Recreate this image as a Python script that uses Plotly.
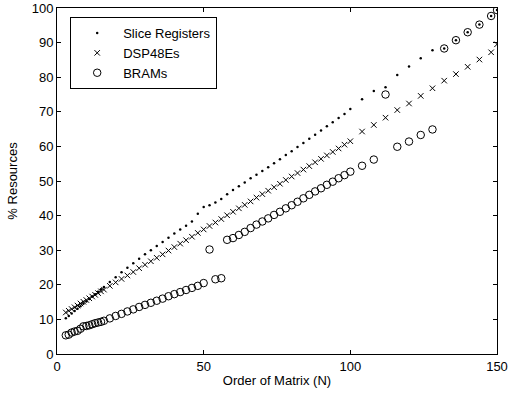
import plotly.graph_objects as go

# N values (order of matrix)
N = [3, 4, 5, 6, 7, 8, 9, 10, 11, 12, 13, 14, 15, 16,
     18, 20, 22, 24, 26, 28, 30, 32, 34, 36, 38, 40, 42, 44, 46, 48, 50,
     52, 54, 56, 58, 60, 62, 64, 66, 68, 70, 72, 74, 76, 78, 80, 82, 84,
     86, 88, 90, 92, 94, 96, 98, 100,
     104, 108, 112, 116, 120, 124, 128, 132, 136, 140, 144, 148, 150]

slice_registers = [10.3, 11.0, 11.7, 12.4, 13.1, 13.8, 14.5, 15.2, 15.9, 16.6, 17.3, 18.0, 18.7, 19.4,
                   20.8, 22.2, 23.6, 24.9, 26.2, 27.5, 28.8, 30.0, 31.2, 32.4, 33.6, 34.8, 36.0, 37.1, 38.3, 40.5, 42.5,
                   43.0, 43.8, 44.8, 46.2, 47.4, 48.5, 49.6, 50.8, 51.8, 52.9, 54.0, 55.1, 56.3, 57.5, 58.6, 59.8, 61.0,
                   62.2, 63.4, 64.6, 65.8, 67.0, 68.2, 69.4, 70.8,
                   73.6, 76.0, 77.1, 80.6, 83.1, 85.5, 87.8, 88.3, 90.7, 93.0, 95.2, 97.7, 99.4]

dsp48es = [12.0, 12.5, 13.0, 13.5, 14.0, 14.6, 15.1, 15.6, 16.1, 16.6, 17.1, 17.6, 18.1, 18.6,
           19.7, 20.7, 21.7, 22.7, 23.7, 24.8, 25.8, 26.8, 27.8, 28.8, 29.9, 30.9, 31.9, 32.9, 33.9, 35.0, 36.0,
           37.0, 38.0, 39.0, 40.1, 41.1, 42.1, 43.1, 44.1, 45.2, 46.2, 47.2, 48.2, 49.2, 50.3, 51.3, 52.3, 53.3,
           54.3, 55.4, 56.4, 57.4, 58.4, 59.4, 60.5, 61.5,
           64.3, 66.2, 68.3, 70.5, 72.4, 74.6, 76.8, 79.0, 80.9, 83.0, 85.1, 87.2, 89.5]

brams = [5.4, 5.6, 6.2, 6.5, 6.7, 7.3, 8.0, 8.1, 8.3, 8.6, 8.9, 9.1, 9.3, 9.6,
         10.3, 11.0, 11.6, 12.3, 12.9, 13.6, 14.2, 14.8, 15.4, 16.0, 16.7, 17.3, 17.9, 18.5, 19.1, 19.7, 20.5,
         30.2, 21.6, 21.9, 33.0, 33.5, 34.4, 35.3, 36.4, 37.4, 38.3, 39.2, 40.2, 41.1, 42.1, 43.0, 44.0, 45.0,
         46.0, 47.0, 47.9, 48.9, 49.8, 50.8, 51.7, 52.7,
         54.4, 56.2, 75.0, 59.9, 61.4, 63.3, 64.9, 88.3, 90.7, 93.0, 95.2, 97.7, 99.4]

x_ticks = [0, 50, 100, 150]
y_ticks = [0, 10, 20, 30, 40, 50, 60, 70, 80, 90, 100]

FONT = "Liberation Sans, Arial, sans-serif"

fig = go.Figure()
fig.add_trace(go.Scatter(x=N, y=slice_registers, mode="markers", name="Slice Registers",
                         marker=dict(symbol="circle", size=2.5, color="black")))
fig.add_trace(go.Scatter(x=N, y=dsp48es, mode="markers", name="DSP48Es",
                         marker=dict(symbol="x-thin-open", size=5.5, color="black",
                                     line=dict(width=1, color="black"))))
fig.add_trace(go.Scatter(x=N, y=brams, mode="markers", name="BRAMs",
                         marker=dict(symbol="circle-open", size=7.5, color="black",
                                     line=dict(width=1, color="black"))))

axis_common = dict(showline=True, linecolor="black", linewidth=1, mirror="ticks",
                   ticks="inside", ticklen=4, tickcolor="black", tickwidth=1,
                   showgrid=False, zeroline=False, automargin=False,
                   tickfont=dict(family=FONT, size=13, color="black"))

fig.update_xaxes(range=[0, 150], tickvals=x_ticks,
                 title=dict(text="Order of Matrix (N)", font=dict(family=FONT, size=13, color="black"),
                            standoff=3),
                 **axis_common)
fig.update_yaxes(range=[0, 100], tickvals=y_ticks,
                 title=dict(text="% Resources", font=dict(family=FONT, size=13, color="black"),
                            standoff=11),
                 **axis_common)

fig.update_layout(
    width=516, height=396,
    margin=dict(l=57, r=19, t=8, b=42),
    paper_bgcolor="white", plot_bgcolor="white",
    showlegend=True,
    legend=dict(x=0.03, y=0.974, xanchor="left", yanchor="top",
                bgcolor="white", bordercolor="black", borderwidth=1,
                font=dict(family=FONT, size=13, color="black"),
                itemsizing="trace", itemwidth=42, tracegroupgap=0),
)

fig.write_html("out.html")
